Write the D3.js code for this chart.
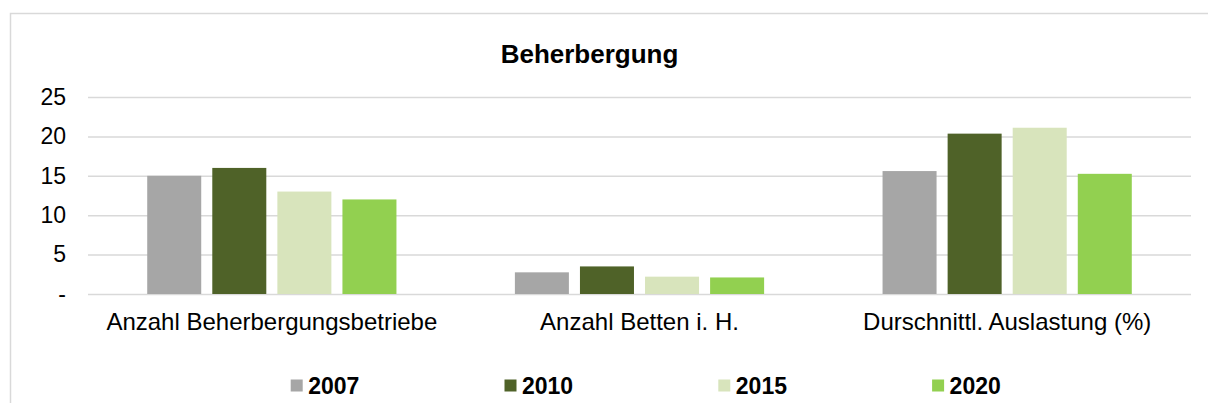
<!DOCTYPE html>
<html>
<head>
<meta charset="utf-8">
<script src="https://cdn.jsdelivr.net/npm/d3@7"></script>
<style>
  body { margin: 0; background: #fff; }
  svg { display: block; font-family: "Liberation Sans", Arial, sans-serif; }
  .yAxis text { font-size: 23px; fill: #000; }
  .xAxis text { font-size: 24px; fill: #000; }
</style>
</head>
<body>
<div id="chart"></div>
<script>
var categories = ["Anzahl Beherbergungsbetriebe", "Anzahl Betten i. H.", "Durschnittl. Auslastung (%)"];
var years = ["2007", "2010", "2015", "2020"];
var values2007 = [15.0, 2.75, 15.6];
var values2010 = [16.0, 3.5, 20.35];
var values2015 = [13.0, 2.2, 21.1];
var values2020 = [12.0, 2.1, 15.25];
var yTicks = [0, 5, 10, 15, 20, 25];
var colors = ["#a6a6a6", "#4f6228", "#d8e4bc", "#92d050"];

var series = [values2007, values2010, values2015, values2020];

var width = 1208;
var height = 403;
var plotLeft = 88;
var plotRight = 1191;
var plotTop = 97;
var plotBottom = 294;

var svg = d3.select("#chart")
  .append("svg")
  .attr("width", width)
  .attr("height", height);

// chart frame (runs off the right and bottom edge)
svg.append("rect")
  .attr("x", 10.5)
  .attr("y", 13.5)
  .attr("width", width + 20)
  .attr("height", height + 20)
  .attr("fill", "none")
  .attr("stroke", "#d9d9d9")
  .attr("stroke-width", 1.5);

svg.append("text")
  .attr("x", 589.5)
  .attr("y", 63)
  .attr("text-anchor", "middle")
  .style("font-size", "26px")
  .style("font-weight", "bold")
  .text("Beherbergung");

var x0 = d3.scaleBand()
  .domain(categories)
  .range([plotLeft, plotRight]);

var x1 = d3.scaleBand()
  .domain(years)
  .range([0, x0.bandwidth()])
  .paddingInner(0.17)
  .paddingOuter(0.91);

var y = d3.scaleLinear()
  .domain([0, 25])
  .range([plotBottom, plotTop]);

// gridlines
svg.append("g")
  .attr("class", "grid")
  .attr("transform", "translate(" + plotLeft + ",0)")
  .call(d3.axisLeft(y).tickValues(yTicks).tickSize(-(plotRight - plotLeft)).tickFormat(""))
  .call(function(g) { g.select(".domain").remove(); })
  .selectAll("line")
  .attr("stroke", "#d9d9d9")
  .attr("stroke-width", 1.5);

var yAxis = svg.append("g")
  .attr("class", "yAxis")
  .attr("transform", "translate(66,0)")
  .call(d3.axisLeft(y).tickValues(yTicks).tickSize(0).tickPadding(0)
    .tickFormat(function(d) { return d === 0 ? "-" : d; }));
yAxis.select(".domain").remove();
yAxis.selectAll("text").attr("font-family", null).attr("font-size", null);

var groups = svg.append("g")
  .selectAll("g")
  .data(categories)
  .enter()
  .append("g")
  .attr("transform", function(d) { return "translate(" + x0(d) + ",0)"; });

groups.selectAll("rect")
  .data(function(d, i) {
    return years.map(function(yr, j) { return { year: yr, value: series[j][i], idx: j }; });
  })
  .enter()
  .append("rect")
  .attr("x", function(d) { return x1(d.year); })
  .attr("y", function(d) { return y(d.value); })
  .attr("width", x1.bandwidth())
  .attr("height", function(d) { return plotBottom - y(d.value); })
  .attr("fill", function(d) { return colors[d.idx]; });

var xAxis = svg.append("g")
  .attr("class", "xAxis")
  .attr("transform", "translate(0," + plotBottom + ")")
  .call(d3.axisBottom(x0).tickSize(0).tickPadding(19));
xAxis.select(".domain").remove();
xAxis.selectAll("text").attr("font-family", null).attr("font-size", null);

// legend
var legend = svg.append("g")
  .selectAll("g")
  .data(years)
  .enter()
  .append("g")
  .attr("transform", function(d, i) { return "translate(" + (290.7 + i * 213.8) + ",0)"; });

legend.append("rect")
  .attr("x", 0)
  .attr("y", 379.5)
  .attr("width", 12)
  .attr("height", 12)
  .attr("fill", function(d, i) { return colors[i]; });

legend.append("text")
  .attr("x", 17.5)
  .attr("y", 393.5)
  .style("font-size", "23px")
  .style("font-weight", "bold")
  .text(function(d) { return d; });
</script>
</body>
</html>
